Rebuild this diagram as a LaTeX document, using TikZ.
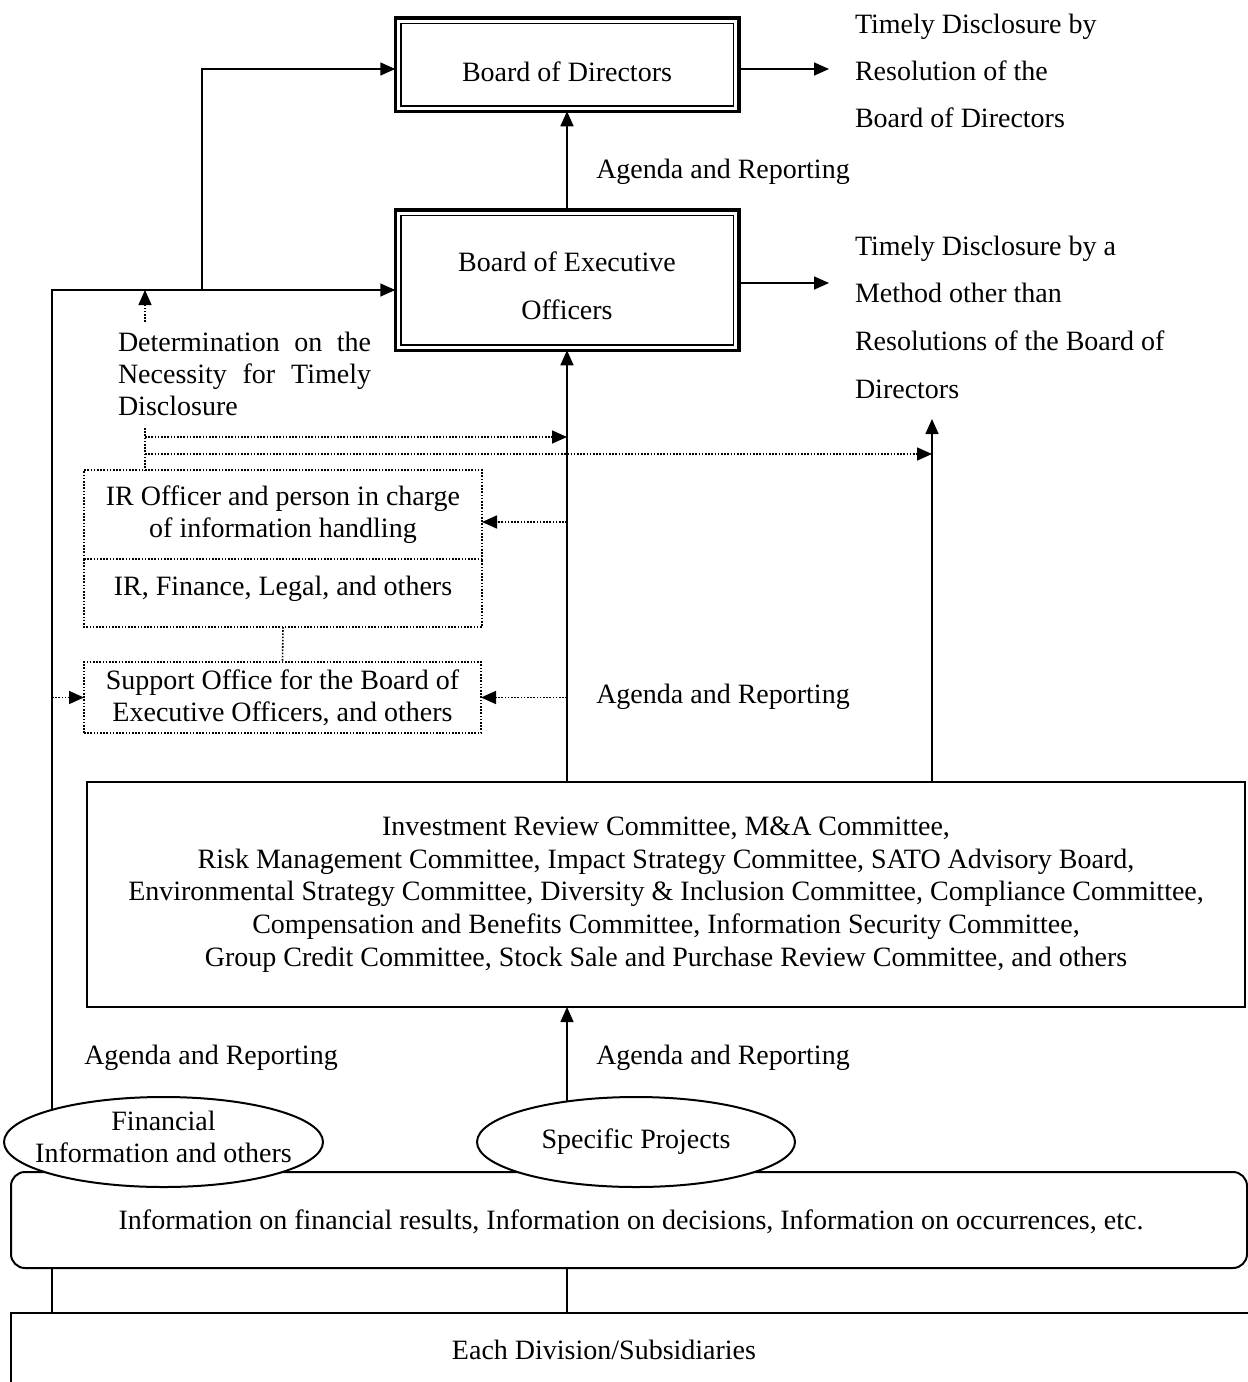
\documentclass[tikz,border=0pt]{standalone}
\usepackage{fontspec}
\setmainfont{Liberation Serif}
\usetikzlibrary{arrows.meta,shapes.geometric,backgrounds}
\begin{document}
\begin{tikzpicture}[x=1pt,y=-1pt,
  every node/.style={font=\fontsize{28}{32.5}\selectfont, inner sep=0pt, outer sep=0pt},
  conn/.style={line width=1.6pt},
  arr/.style={line width=1.6pt, -{Triangle[length=15pt,width=13pt]}},
  dotln/.style={line width=1.6pt, dash pattern=on 1.6pt off 1.6pt},
  dotarr/.style={dotln, -{Triangle[length=15pt,width=13pt]}},
  board/.style={draw, line width=3.5pt, minimum width=343.5pt},
  dotbox/.style={draw, dotln, align=center},
  plainbox/.style={draw, line width=2pt},
  oval/.style={ellipse, draw, line width=2pt, fill=white}
]
\useasboundingbox (0,0) rectangle (1248,1382);
\clip (0,0) rectangle (1248,1382);

% ---- Boards
\node[board, minimum height=93.5pt] (bod) at (567,64.5) {};
\draw[line width=1.5pt] ([shift={(5.5,5.5)}]bod.north west) rectangle ([shift={(-5.5,-5.5)}]bod.south east);
\node (bodtext) at (567,72) {Board of Directors};

\node[board, minimum height=140.5pt] (boeo) at (567,280) {};
\draw[line width=1.5pt] ([shift={(5.5,5.5)}]boeo.north west) rectangle ([shift={(-5.5,-5.5)}]boeo.south east);
\node[align=center, font=\fontsize{28}{48}\selectfont] (boeotext) at (567,285.5) {Board of Executive\\Officers};

% ---- Disclosure texts
\node[align=left, anchor=west, font=\fontsize{28}{47}\selectfont] (disc1) at (855,71)
  {Timely Disclosure by\\Resolution of the\\Board of Directors};
\node[align=left, anchor=west, font=\fontsize{28}{47.7}\selectfont] (disc2) at (855,317)
  {Timely Disclosure by a\\Method other than\\Resolutions of the Board of\\Directors};

\node[align=left, anchor=west, font=\fontsize{28}{32}\selectfont] (determ) at (118,374)
  {\makebox[253pt][s]{Determination on the}\\\makebox[253pt][s]{Necessity for Timely}\\Disclosure};

% ---- Dotted boxes
\node[dotbox, minimum width=398pt, minimum height=89pt, font=\fontsize{28}{32}\selectfont] (irofficer) at (283,514.5)
  {IR Officer and person in charge\\of information handling};
\node[minimum width=398pt, minimum height=68pt, text depth=15pt] (irdept) at (283,593)
  {IR, Finance, Legal, and others};
\draw[dotln] (irdept.north west) -- (irdept.south west) -- (irdept.south east) -- (irdept.north east);
\node[dotbox, minimum width=397pt, minimum height=71pt, font=\fontsize{28}{32}\selectfont] (support) at (282.5,697.5)
  {Support Office for the Board of\\Executive Officers, and others};

% ---- Committees
\node[plainbox, minimum width=1158pt, minimum height=225pt, align=center, font=\fontsize{28}{32.75}\selectfont] (committee) at (666,894.5)
  {Investment Review Committee, M\&A Committee,\\
   Risk Management Committee, Impact Strategy Committee, SATO Advisory Board,\\
   Environmental Strategy Committee, Diversity \& Inclusion Committee, Compliance Committee,\\
   Compensation and Benefits Committee, Information Security Committee,\\
   Group Credit Committee, Stock Sale and Purchase Review Committee, and others};

% ---- Labels
\node (ag1) at (723,172) {Agenda and Reporting};
\node (ag2) at (723,697) {Agenda and Reporting};
\node (ag3) at (211,1058) {Agenda and Reporting};
\node (ag4) at (723,1058) {Agenda and Reporting};

% ---- Bottom
\node[plainbox, rounded corners=14pt, fill=white, minimum width=1236pt, minimum height=96pt] (info) at (629,1220) {};
\node (infotext) at (631,1222) {Information on financial results, Information on decisions, Information on occurrences, etc.};
\node[oval, minimum width=319pt, minimum height=90pt] (fin) at (163.5,1142) {};
\node[align=center, font=\fontsize{28}{32}\selectfont] (fintext) at (163.5,1137) {Financial\\Information and others};
\node[oval, minimum width=318pt, minimum height=90pt] (spec) at (636,1142) {Specific Projects};
\node[plainbox, minimum width=1289pt, minimum height=107pt] (division) at (655.5,1366.5) {};
\node (divtext) at (604,1350) {Each Division/Subsidiaries};

% ---- Junction coordinates
\coordinate (lcorner) at (52,290);
\coordinate (tjunc) at (202,290);
\coordinate (dup) at (145,290);
\coordinate (dstart) at (145,322);
\coordinate (dv) at (145,428);
\coordinate (d1) at (145,437);
\coordinate (d2) at (145,454);
\coordinate (rv) at (932,419);
\coordinate (irarr) at (567,522);
\coordinate (suparr) at (567,697.5);
\coordinate (o1) at (829,69);
\coordinate (o2) at (829,283);

% ---- Connectors
\begin{scope}[on background layer]
  \draw[arr] (division.north -| lcorner) -- (lcorner) -- (lcorner -| boeo.west);
  \draw[arr] (tjunc) |- ([yshift=-4.5pt]bod.west);
  \draw[arr] (boeo.north) -- (bod.south);
  \draw[arr] (bod.east |- o1) -- (o1);
  \draw[arr] (boeo.east |- o2) -- (o2);
  \draw[arr] (committee.north -| boeo.south) -- (boeo.south);
  \draw[arr] (committee.north -| rv) -- (rv);
  \draw[arr] (spec.center -| boeo.south) -- (committee.south -| boeo.south);
  \draw[conn] (info.south -| boeo.south) -- (division.north -| boeo.south);
  \draw[dotarr] (dstart) -- (dup);
  \draw[dotln] (dv) -- (dv |- irofficer.north);
  \draw[dotarr] (d1) -- (d1 -| boeo.south);
  \draw[dotarr] (d2) -- (d2 -| rv);
  \draw[dotarr] (irarr) -- (irarr -| irofficer.east);
  \draw[dotarr] (suparr) -- (support.east);
  \draw[dotarr] (support.west -| lcorner) -- (support.west);
  \draw[dotln] (irdept.south) -- (support.north);
\end{scope}
\end{tikzpicture}
\end{document}
